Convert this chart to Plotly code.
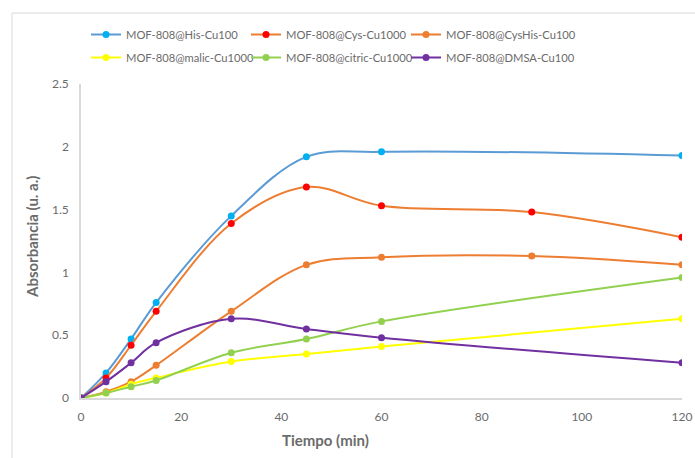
import plotly.graph_objects as go

# Sampling times (min) for each material
t_his = [0, 5, 10, 15, 30, 45, 60, 120]
t_cys = [0, 5, 10, 15, 30, 45, 60, 90, 120]
t_cyshis = [0, 5, 10, 15, 30, 45, 60, 90, 120]
t_malic = [0, 5, 10, 15, 30, 45, 60, 120]
t_citric = [0, 5, 10, 15, 30, 45, 60, 120]
t_dmsa = [0, 5, 10, 15, 30, 45, 60, 120]

# Absorbance readings (u. a.)
a_his = [0, 0.20, 0.47, 0.76, 1.45, 1.92, 1.96, 1.93]
a_cys = [0, 0.16, 0.42, 0.69, 1.39, 1.68, 1.53, 1.48, 1.28]
a_cyshis = [0, 0.05, 0.13, 0.26, 0.69, 1.06, 1.12, 1.13, 1.06]
a_malic = [0, 0.04, 0.11, 0.16, 0.29, 0.35, 0.41, 0.63]
a_citric = [0, 0.04, 0.09, 0.14, 0.36, 0.47, 0.61, 0.96]
a_dmsa = [0, 0.13, 0.28, 0.44, 0.63, 0.55, 0.48, 0.28]

names = [
    "MOF-808@His-Cu100",
    "MOF-808@Cys-Cu1000",
    "MOF-808@CysHis-Cu100",
    "MOF-808@malic-Cu1000",
    "MOF-808@citric-Cu1000",
    "MOF-808@DMSA-Cu100",
]
x_ticks = [0, 20, 40, 60, 80, 100, 120]
y_ticks = [0, 0.5, 1, 1.5, 2, 2.5]

series = [
    (t_his, a_his, "#5B9BD5", "#00B0F0"),
    (t_cys, a_cys, "#ED7D31", "#FF0000"),
    (t_cyshis, a_cyshis, "#ED7D31", "#ED7D31"),
    (t_malic, a_malic, "#FFFF00", "#FFFF00"),
    (t_citric, a_citric, "#92D050", "#92D050"),
    (t_dmsa, a_dmsa, "#7030A0", "#7030A0"),
]

FONT = "Lato, 'Open Sans', sans-serif"
GRAY = "#6b6b6b"

# legend columns: three legends, two rows each
legend_ids = ["legend", "legend2", "legend3", "legend", "legend2", "legend3"]

fig = go.Figure()
for i, ((t, a, lc, mc), nm) in enumerate(zip(series, names)):
    fig.add_trace(go.Scatter(
        x=t, y=a, name=nm, mode="lines+markers",
        line=dict(color=lc, width=2, shape="spline", smoothing=1),
        marker=dict(color=mc, size=7),
        legend=legend_ids[i], legendgroup=f"g{i}",
    ))

W, H = 695, 458
L, R, T, B = 81, 13, 84, 60
pw, ph = W - L - R, H - T - B


def px(x):
    return (x - L) / pw


def py(y):
    return (H - B - y) / ph


def col_legend(x_pix):
    return dict(
        orientation="v", x=px(x_pix), y=py(20), xanchor="left", yanchor="top",
        font=dict(family=FONT, size=11.2, color=GRAY),
        tracegroupgap=4, bgcolor="rgba(0,0,0,0)",
    )


fig.update_layout(
    width=W, height=H,
    margin=dict(l=L, r=R, t=T, b=B, autoexpand=False),
    paper_bgcolor="white", plot_bgcolor="white",
    font=dict(family=FONT, color=GRAY, size=12),
    showlegend=True,
    legend=col_legend(86),
    legend2=col_legend(246),
    legend3=col_legend(406),
    xaxis=dict(
        range=[0, 120], tickvals=x_ticks, showgrid=False, zeroline=False,
        showline=True, linecolor="#D9D9D9", linewidth=1.5,
        ticks="", ticklabelstandoff=7, tickfont=dict(size=12, color=GRAY),
    ),
    yaxis=dict(
        range=[0, 2.5], tickvals=y_ticks, ticktext=[str(v) for v in y_ticks],
        showgrid=False, zeroline=False,
        showline=True, linecolor="#D9D9D9", linewidth=1.5,
        ticks="", ticklabelstandoff=8, tickfont=dict(size=12, color=GRAY),
    ),
    shapes=[dict(
        type="rect", xref="paper", yref="paper",
        x0=px(12), x1=px(W + 10), y0=py(H + 10), y1=py(13),
        line=dict(color="#D9D9D9", width=1), layer="below",
    )],
    annotations=[
        dict(text="<b>Tiempo (min)</b>", xref="paper", yref="paper",
             x=px(325), y=py(440), xanchor="center", yanchor="middle",
             showarrow=False, font=dict(family=FONT, size=15, color=GRAY)),
        dict(text="<b>Absorbancia (u. a.)</b>", xref="paper", yref="paper",
             x=px(32), y=py(237), xanchor="center", yanchor="middle",
             showarrow=False, textangle=-90,
             font=dict(family=FONT, size=15, color=GRAY)),
    ],
)

fig.write_html("out.html")
